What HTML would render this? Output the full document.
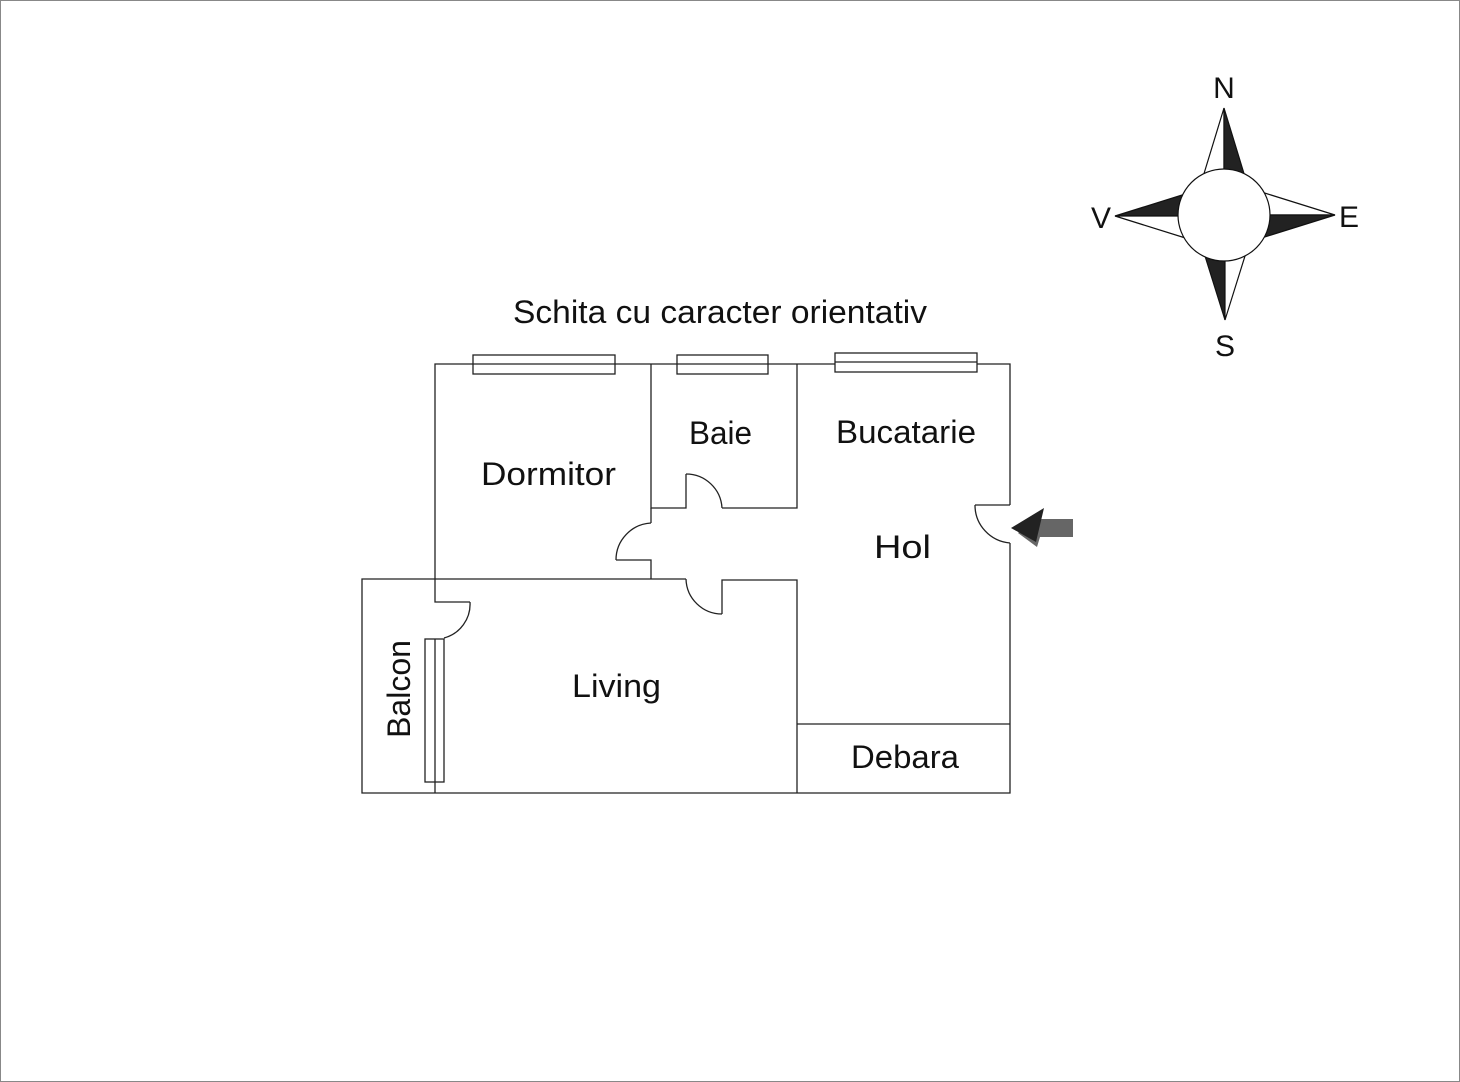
<!DOCTYPE html>
<html><head><style>
html,body{margin:0;padding:0;background:#fff;}
svg{display:block}
text{font-family:"Liberation Sans",sans-serif;fill:#111;}
</style></head><body>
<svg width="1460" height="1082" viewBox="0 0 1460 1082" xmlns="http://www.w3.org/2000/svg">
<rect x="0.5" y="0.5" width="1459" height="1081" fill="#fff" stroke="#888" stroke-width="1"/>
<g fill="none" stroke="#222" stroke-width="1.3">
<polyline points="1010,505 1010,364 435,364 435,602 470,602"/>
<path d="M470,602 A35,35 0 0 1 444,638"/>
<polyline points="1010,543 1010,793 362,793 362,579 686,579"/>
<path d="M686,579 A36,36 0 0 0 722,614"/>
<polyline points="722,614 722,580 797,580 797,793"/>
<line x1="797" y1="724" x2="1010" y2="724"/>
<line x1="1010" y1="505" x2="975" y2="505"/>
<path d="M975,505 A38,38 0 0 0 1010,543"/>
<polyline points="797,364 797,508 722,508"/>
<path d="M722,508 A36,36 0 0 0 686,474"/>
<polyline points="686,474 686,508 651,508 651,364"/>
<polyline points="651,508 651,523"/>
<path d="M651,523 A37,37 0 0 0 616,560"/>
<polyline points="616,560 651,560 651,579"/>
<rect x="473" y="355" width="142" height="19" fill="#fff"/>
<rect x="677" y="355" width="91" height="19" fill="#fff"/>
<rect x="835" y="353" width="142" height="19" fill="#fff"/>
<rect x="425" y="639" width="19" height="143" fill="#fff"/>
<line x1="435" y1="639" x2="435" y2="793"/>
<line x1="473" y1="364" x2="615" y2="364"/>
<line x1="677" y1="364" x2="768" y2="364"/>
<line x1="835" y1="362" x2="977" y2="362"/>
</g>
<polygon points="1033,519 1073,519 1073,537 1040,537 1037,547 1018,533" fill="#666"/>
<polygon points="1011,528 1044,508 1036,542" fill="#222"/>
<text x="513" y="323" font-size="32" textLength="414" lengthAdjust="spacingAndGlyphs">Schita cu caracter orientativ</text>
<text x="481" y="485" font-size="32" textLength="135" lengthAdjust="spacingAndGlyphs">Dormitor</text>
<text x="689" y="444" font-size="32" textLength="63" lengthAdjust="spacingAndGlyphs">Baie</text>
<text x="836" y="443" font-size="32" textLength="140" lengthAdjust="spacingAndGlyphs">Bucatarie</text>
<text x="874" y="558" font-size="32" textLength="57" lengthAdjust="spacingAndGlyphs">Hol</text>
<text x="572" y="697" font-size="32" textLength="89" lengthAdjust="spacingAndGlyphs">Living</text>
<text x="851" y="768" font-size="32" textLength="108" lengthAdjust="spacingAndGlyphs">Debara</text>
<text transform="translate(410,689) rotate(-90)" font-size="32" text-anchor="middle">Balcon</text>
<g stroke="#111" stroke-width="1.2">
<polygon points="1224,108 1199,190 1224,190" fill="#fff"/>
<polygon points="1224,108 1249,190 1224,190" fill="#222"/>
<polygon points="1225,320 1200,240 1225,240" fill="#222"/>
<polygon points="1225,320 1250,240 1225,240" fill="#fff"/>
<polygon points="1115,216 1195,191 1195,216" fill="#222"/>
<polygon points="1115,216 1195,241 1195,216" fill="#fff"/>
<polygon points="1335,215 1255,190 1255,215" fill="#fff"/>
<polygon points="1335,215 1255,240 1255,215" fill="#222"/>
<ellipse cx="1224" cy="215" rx="46" ry="46" fill="#fff"/>
</g>
<text x="1224" y="98" font-size="30" text-anchor="middle">N</text>
<text x="1225" y="356" font-size="30" text-anchor="middle">S</text>
<text x="1101" y="228" font-size="30" text-anchor="middle">V</text>
<text x="1349" y="227" font-size="30" text-anchor="middle">E</text>
</svg>
</body></html>
